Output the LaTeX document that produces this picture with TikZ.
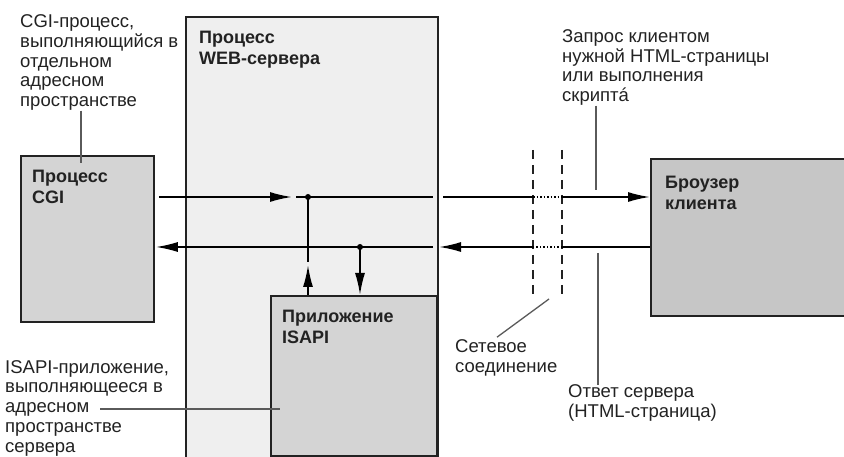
\documentclass[tikz,border=0pt]{standalone}
\usepackage{fontspec}
\setmainfont{Liberation Sans}
\usetikzlibrary{calc,arrows.meta}

\definecolor{webfill}{HTML}{EFEFEF}
\definecolor{appfill}{HTML}{D4D4D4}
\definecolor{brfill}{HTML}{C6C6C6}
\definecolor{ink}{HTML}{222222}
\definecolor{leadgray}{HTML}{5A5A5A}

\tikzset{
  box/.style={draw=ink, line width=1.8pt, anchor=north west, inner sep=0pt},
  boxtxt/.style={anchor=base west, inner sep=0pt, align=left, text=ink,
    font=\fontsize{18}{21}\selectfont\bfseries},
  note/.style={anchor=base west, inner sep=0pt, align=left, text=ink,
    font=\fontsize{18.5}{19.7}\selectfont},
  flow/.style={draw=black, line width=1.8pt},
  tip/.style={-{Latex[length=22pt,width=10pt]}},
  lead/.style={draw=leadgray, line width=1.3pt},
  net/.style={draw=ink, line width=1.5pt, dash pattern=on 9pt off 6pt},
  dots/.style={dash pattern=on 1.5pt off 2pt},
}

\begin{document}
\begin{tikzpicture}[x=1pt, y=-1pt]
    \useasboundingbox (0,0) rectangle (844,457);
    \clip (0,0) rectangle (844,457);
    \def\ya{197} \def\yb{247}
    \def\na{533} \def\nb{562}

    % boxes
    \node[box, fill=webfill, minimum width=252, minimum height=470] (web) at (185,16) {};
    \node[box, fill=appfill, minimum width=133, minimum height=166] (cgi) at (20,155) {};
    \node[box, fill=appfill, minimum width=166, minimum height=160] (isapi) at (270,295) {};
    \node[box, fill=brfill, minimum width=220, minimum height=157] (browser) at (650,158) {};

    % (base = last line)
    \node[boxtxt] (webtxt) at (199,65) {Процесс\\WEB-сервера};
    \node[boxtxt] (cgitxt) at (32,204) {Процесс\\CGI};
    \node[boxtxt] (isapitxt) at (282,344) {Приложение\\ISAPI};
    \node[boxtxt] (brtxt) at (665,210) {Броузер\\клиента};

    % notes
    \node[note] (cginote) at (20,106.5) {CGI-процесс,\\выполняющийся в\\отдельном\\адресном\\пространстве};
    \node[note] (isapinote) at (5,452) {ISAPI-приложение,\\выполняющееся в\\адресном\\пространстве\\сервера};
    \node[note] (reqnote) at (562,101.7) {Запрос клиентом\\нужной HTML-страницы\\или выполнения\\скриптá};
    \node[note] (netnote) at (455,372) {Сетевое\\соединение};
    \node[note] (respnote) at (568,417.5) {Ответ сервера\\(HTML-страница)};

    \coordinate (j1) at (308,\ya);
    \coordinate (j2) at (360,\yb);
    \coordinate (c1) at (81,163);
    \coordinate (c2) at (280,409);
    \coordinate (c3) at (596,190);
    \coordinate (c4) at (598,253);
    \coordinate (c5) at (549,299);

    % leaders
    \draw[lead] (c1 |- cginote.south) -- (c1);
    \draw[lead] (100,409) -- (c2);
    \draw[lead] (c3 |- reqnote.south) -- (c3);
    \draw[lead] (c4) -- (c4 |- respnote.north);
    \draw[lead] ($(netnote.north west)+(42,-2)$) -- (c5);

    % network
    \draw[net] (\na,150) -- (\na,297);
    \draw[net] (\nb,150) -- (\nb,297);

    % request
    \draw[flow, tip] ($(cgi.east |- j1)+(4,0)$) -- (292,\ya);
    \draw[flow] (296,\ya) -- (433,\ya);
    \draw[flow] (443,\ya) -- (\na,\ya);
    \draw[flow, dots] (\na,\ya) -- (\nb,\ya);
    \draw[flow, tip] (\nb,\ya) -- (browser.west |- j1);

    % response
    \draw[flow] (browser.west |- j2) -- (\nb,\yb);
    \draw[flow, dots] (\nb,\yb) -- (\na,\yb);
    \draw[flow, tip] (\na,\yb) -- (439,\yb);
    \draw[flow, tip] (433,\yb) -- ($(cgi.east |- j2)+(1,0)$);

    % ISAPI
    \draw[flow] (j1) -- (308,262);
    \draw[flow, tip] (isapi.north -| j1) -- (308,265);
    \draw[flow, tip] (j2) -- (isapi.north -| j2);
    \fill (j1) circle (3pt);
    \fill (j2) circle (3pt);
\end{tikzpicture}
\end{document}
